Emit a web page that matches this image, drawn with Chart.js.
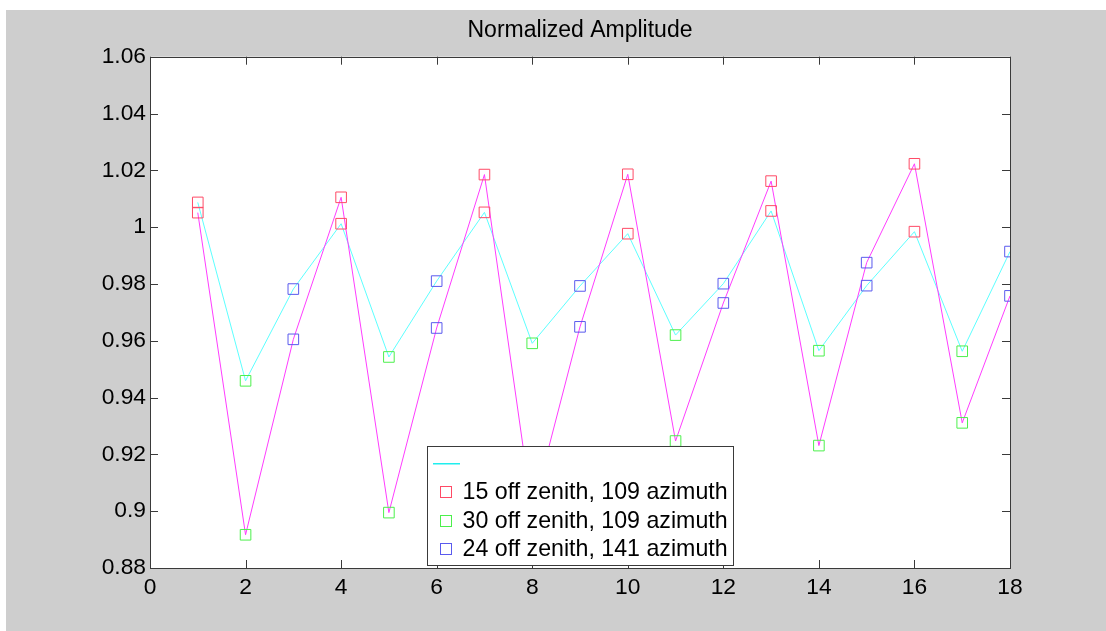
<!DOCTYPE html>
<html>
<head>
<meta charset="utf-8">
<title>Normalized Amplitude</title>
<script src="https://cdn.jsdelivr.net/npm/chart.js@4/dist/chart.umd.min.js"></script>
<style>
  html, body { margin: 0; padding: 0; background: #ffffff; }
  canvas { display: block; }
</style>
</head>
<body>
<canvas id="chart" width="1106" height="631"></canvas>
<script>
// Sample positions along the x axis
const sampleIndex = [1, 2, 3, 4, 5, 6, 7, 8, 9, 10, 11, 12, 13, 14, 15, 16, 17, 18];

// Normalized amplitude, cyan trace
const cyanValues = [1.0087, 0.9459, 0.9782, 1.0012, 0.9543, 0.9810, 1.0052, 0.9591, 0.9793,
                    0.9977, 0.9620, 0.9801, 1.0057, 0.9565, 0.9794, 0.9984, 0.9563, 0.9914];

// Normalized amplitude, magenta trace
const magentaValues = [1.0051, 0.8917, 0.9605, 1.0105, 0.8995, 0.9645, 1.0185, 0.9000, 0.9649,
                       1.0186, 0.9247, 0.9733, 1.0162, 0.9231, 0.9875, 1.0223, 0.9311, 0.9758];

// Axis ticks
const xTicks = [0, 2, 4, 6, 8, 10, 12, 14, 16, 18];
const xTickLabels = ['0', '2', '4', '6', '8', '10', '12', '14', '16', '18'];
const yTicks = [0.88, 0.90, 0.92, 0.94, 0.96, 0.98, 1.00, 1.02, 1.04, 1.06];
const yTickLabels = ['0.88', '0.9', '0.92', '0.94', '0.96', '0.98', '1', '1.02', '1.04', '1.06'];

// Legend text: the first entry (cyan trace) has no label
const legendLabels = ['', '15 off zenith, 109 azimuth', '30 off zenith, 109 azimuth', '24 off zenith, 141 azimuth'];
const titleText = 'Normalized Amplitude';

const FONT = '"Liberation Sans", Arial, Helvetica, sans-serif';
const FIG_GRAY = '#cecece';
const AXIS_COLOR = '#3a3a3a';
const LINE_CYAN = '#5cffff';
const LEGEND_CYAN = '#20eeee';
const LINE_MAGENTA = '#ff3cff';
const MARK_COLORS = ['#ff4a66', '#4cf04c', '#5a5aee'];

Chart.defaults.font.family = FONT;

// Each sample belongs to one of three look directions, cycling 1,2,3,1,2,3...
function markerPoints(group) {
  const pts = [];
  sampleIndex.forEach((x, i) => {
    if (i % 3 === group) {
      pts.push({ x: x, y: magentaValues[i] });
      pts.push({ x: x, y: cyanValues[i] });
    }
  });
  return pts;
}

function linePoints(values) {
  return sampleIndex.map((x, i) => ({ x: x, y: values[i] }));
}

// Figure background, white axes area
const figureBackground = {
  id: 'figureBackground',
  beforeDraw(chart) {
    const { ctx, chartArea: a, width, height } = chart;
    ctx.save();
    ctx.fillStyle = '#ffffff';
    ctx.fillRect(0, 0, width, height);
    ctx.fillStyle = FIG_GRAY;
    ctx.fillRect(6, 10, width - 6, height - 10);
    ctx.fillStyle = '#ffffff';
    ctx.fillRect(a.left, a.top, a.right - a.left, a.bottom - a.top);
    ctx.restore();
  }
};

// Axes box with inward tick marks on all four sides, then the legend on top
const axesBoxAndLegend = {
  id: 'axesBoxAndLegend',
  afterDraw(chart) {
    const { ctx, chartArea: a, scales } = chart;
    const tl = 8;
    ctx.save();
    ctx.globalAlpha = 1;
    ctx.strokeStyle = AXIS_COLOR;
    ctx.lineWidth = 1;
    ctx.setLineDash([]);
    ctx.beginPath();
    xTicks.forEach(v => {
      const px = Math.round(scales.x.getPixelForValue(v)) + 0.5;
      ctx.moveTo(px, a.bottom); ctx.lineTo(px, a.bottom - tl);
      ctx.moveTo(px, a.top); ctx.lineTo(px, a.top + tl);
    });
    yTicks.forEach(v => {
      const py = Math.round(scales.y.getPixelForValue(v)) + 0.5;
      ctx.moveTo(a.left, py); ctx.lineTo(a.left + tl, py);
      ctx.moveTo(a.right, py); ctx.lineTo(a.right - tl, py);
    });
    ctx.stroke();
    const l = Math.round(a.left) + 0.5, r = Math.round(a.right) + 0.5;
    const t = Math.round(a.top) + 0.5, b = Math.round(a.bottom) + 0.5;
    ctx.strokeRect(l, t, r - l, b - t);

    // Legend box
    const bx = Math.round(a.left + 277) + 0.5;
    const by = Math.round(a.bottom - 122) + 0.5;
    const bw = 306, bh = 119;
    ctx.fillStyle = '#ffffff';
    ctx.fillRect(bx, by, bw, bh);
    ctx.strokeStyle = AXIS_COLOR;
    ctx.strokeRect(bx, by, bw, bh);

    const rowY = [by + 16, by + 45, by + 74, by + 102];
    // cyan trace sample
    ctx.fillStyle = LEGEND_CYAN;
    ctx.fillRect(Math.round(bx + 5), Math.round(rowY[0]), 27, 1.5);
    // marker entries
    ctx.font = '23.2px ' + FONT;
    ctx.textBaseline = 'middle';
    ctx.textAlign = 'left';
    for (let k = 1; k < legendLabels.length; k++) {
      const cy = Math.round(rowY[k]) + 0.5;
      ctx.strokeStyle = MARK_COLORS[k - 1];
      ctx.strokeRect(bx + 13, cy - 6, 11, 11);
      ctx.fillStyle = '#000000';
      ctx.fillText(legendLabels[k], bx + 35, rowY[k] + 1);
    }
    ctx.restore();
  }
};

const markerStyle = (color) => ({
  showLine: false,
  pointStyle: 'rect',
  pointRadius: 7.5,
  pointHoverRadius: 7.5,
  pointBorderWidth: 1,
  pointBorderColor: color,
  pointBackgroundColor: 'rgba(0,0,0,0)',
  borderColor: color,
  backgroundColor: 'rgba(0,0,0,0)'
});

new Chart(document.getElementById('chart'), {
  type: 'scatter',
  data: {
    datasets: [
      Object.assign({ label: legendLabels[1], data: markerPoints(0), order: 1 }, markerStyle(MARK_COLORS[0])),
      Object.assign({ label: legendLabels[2], data: markerPoints(1), order: 1 }, markerStyle(MARK_COLORS[1])),
      Object.assign({ label: legendLabels[3], data: markerPoints(2), order: 1 }, markerStyle(MARK_COLORS[2])),
      {
        label: legendLabels[0],
        data: linePoints(cyanValues),
        showLine: true,
        borderColor: LINE_CYAN,
        borderWidth: 1,
        pointRadius: 0,
        tension: 0,
        order: 3
      },
      {
        label: 'magenta',
        data: linePoints(magentaValues),
        showLine: true,
        borderColor: LINE_MAGENTA,
        borderWidth: 1,
        pointRadius: 0,
        tension: 0,
        order: 2
      }
    ]
  },
  options: {
    responsive: false,
    devicePixelRatio: 1,
    animation: false,
    layout: { padding: { left: 0, right: 96, top: 0, bottom: 0 } },
    plugins: {
      legend: { display: false },
      tooltip: { enabled: false },
      title: {
        display: true,
        text: titleText,
        fullSize: false,
        color: '#000000',
        font: { size: 23, weight: 'normal', family: FONT, lineHeight: 1.2 },
        padding: { top: 16.5, bottom: 12.6 }
      }
    },
    scales: {
      x: {
        type: 'linear',
        min: 0,
        max: 18,
        afterBuildTicks: (s) => { s.ticks = xTicks.map(v => ({ value: v })); },
        afterFit: (s) => { s.height = 63; },
        grid: { display: false, drawTicks: false },
        border: { display: false },
        ticks: {
          color: '#000000',
          font: { size: 22.8, family: FONT },
          padding: 6,
          maxRotation: 0,
          autoSkip: false,
          callback: (v, i) => xTickLabels[i]
        }
      },
      y: {
        type: 'linear',
        min: 0.88,
        max: 1.06,
        afterBuildTicks: (s) => { s.ticks = yTicks.map(v => ({ value: v })); },
        afterFit: (s) => { s.width = 150; },
        grid: { display: false, drawTicks: false },
        border: { display: false },
        ticks: {
          color: '#000000',
          font: { size: 22.8, family: FONT },
          padding: 4,
          autoSkip: false,
          callback: (v, i) => yTickLabels[i]
        }
      }
    }
  },
  plugins: [figureBackground, axesBoxAndLegend]
});
</script>
</body>
</html>
